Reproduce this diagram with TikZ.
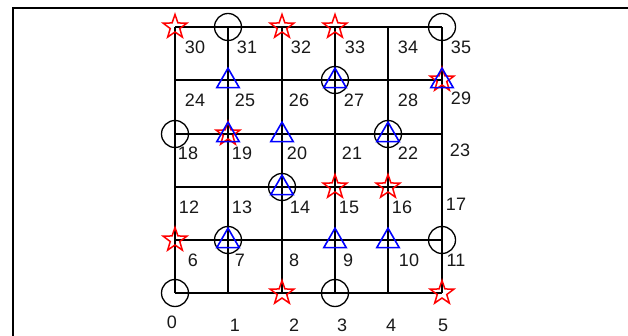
\documentclass[tikz,border=0pt]{standalone}
\usepackage{fontspec}
\setmainfont{Liberation Sans}
\usetikzlibrary{shapes.geometric}
\begin{document}
\begin{tikzpicture}[x=1pt,y=-1pt,
  gridline/.style={line width=2pt, black},
  frameline/.style={line width=2pt, black},
  starmark/.style={shape=star, star points=5, star point ratio=2.5, draw=red, line width=1.5pt, minimum size=25pt, inner sep=0pt},
  circmark/.style={shape=circle, draw=black, line width=1.3pt, minimum size=27pt, inner sep=0pt},
  trimark/.style={shape=regular polygon, regular polygon sides=3, draw=blue, line width=1.6pt, minimum size=26pt, inner sep=0pt, yshift=-1.2pt},
  lab/.style={font=\fontsize{18}{18}\selectfont, inner sep=0pt, text=black!90}
]
\useasboundingbox (0,0) rectangle (628,336);
\fill[white] (0,0) rectangle (628,336);
% frame
\coordinate (fa) at (13,8);
\coordinate (fb) at (628,8);
\coordinate (fc) at (13,336);
\draw[frameline] (fc) -- (fa) -- (fb);
% grid points
\foreach \r/\yy in {0/293,1/240,2/187,3/134,4/80,5/27}{
  \foreach \c/\xx in {0/175,1/228,2/282,3/335,4/388,5/442}{
    \pgfmathtruncatemacro{\k}{6*\r+\c}
    \coordinate (p\k) at (\xx,\yy);
  }
}
% grid lines
\foreach \i in {0,...,5}{
  \pgfmathtruncatemacro{\top}{\i+30}
  \pgfmathtruncatemacro{\lft}{6*\i}
  \pgfmathtruncatemacro{\rgt}{6*\i+5}
  \draw[gridline] (p\i) -- (p\top);
  \draw[gridline] (p\lft) -- (p\rgt);
}
% stars
\foreach \k in {30,32,33,15,16,6,2,5,19,29}{
  \node[starmark] (s\k) at (p\k) {};
}
% circles
\foreach \k in {31,35,18,27,22,14,7,11,0,3}{
  \node[circmark] (c\k) at (p\k) {};
}
% triangles
\foreach \k in {25,27,29,19,20,22,14,7,9,10}{
  \node[trimark] (t\k) at (p\k) {};
}
% labels
\foreach \n/\x/\y in {30/195/47,31/247/47,32/301/47,33/355/47,34/408/47,35/461/47,
  24/195/100,25/245/100,26/299/100,27/354/100,28/408/100,29/461/98,
  18/188/153,19/242/153,20/297/153,21/352/153,22/408/153,23/460/150,
  12/189/207,13/242/207,14/300/207,15/349/207,16/402/207,17/456/204,
  6/193/260,7/240/260,8/294/260,9/348/260,10/409/260,11/456/260,
  0/172/322,1/235/325,2/294/325,3/342/325,4/391/325,5/443/325}{
  \node[lab] (l\n) at (\x,\y) {\n};
}
\end{tikzpicture}
\end{document}
